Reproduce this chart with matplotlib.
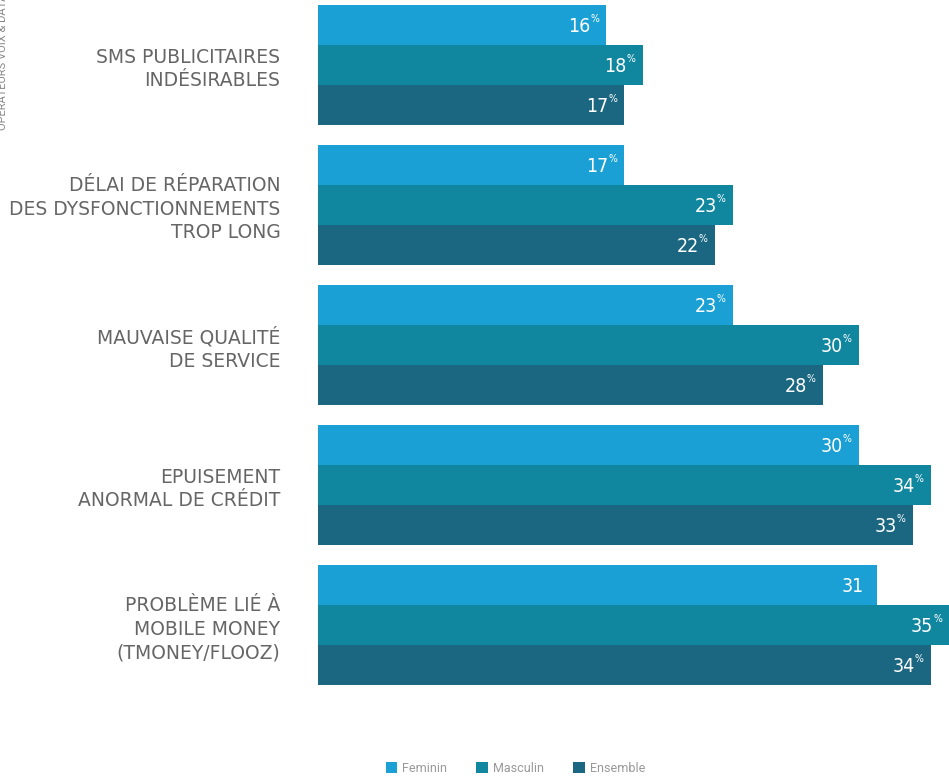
import matplotlib
matplotlib.use("Agg")
import matplotlib.pyplot as plt
import numpy as np

plt.rcParams['font.family'] = ['Roboto', 'DejaVu Sans']

# data
categories = ["SMS PUBLICITAIRES\nINDÉSIRABLES",
              "DÉLAI DE RÉPARATION\nDES DYSFONCTIONNEMENTS\nTROP LONG",
              "MAUVAISE QUALITÉ\nDE SERVICE",
              "EPUISEMENT\nANORMAL DE CRÉDIT",
              "PROBLÈME LIÉ À\nMOBILE MONEY\n(TMONEY/FLOOZ)"]
feminin = [16, 17, 23, 30, 31]
masculin = [18, 23, 30, 34, 35]
ensemble = [17, 22, 28, 33, 34]
series_names = ["Feminin", "Masculin", "Ensemble"]
# the last feminin label has no % sign in the source
show_pct = [[True, True, True, True, False],
            [True] * 5,
            [True] * 5]

colors = ["#1aa0d4", "#11879f", "#1b6781"]

W, H = 949, 777
fig = plt.figure(figsize=(W / 100, H / 100), dpi=100)
# bars area: x 318..949 px, y 5..685 px
ax = fig.add_axes([318 / W, 1 - 685 / H, (W - 318) / W, 680 / H])

pitch = 3.5
base = np.arange(len(categories)) * pitch
handles = []
for i, (vals, name, col) in enumerate(zip([feminin, masculin, ensemble], series_names, colors)):
    ys = base + i
    b = ax.barh(ys, vals, height=1.0, color=col, label=name, linewidth=0)
    handles.append(b)
    for y, v, pct in zip(ys, vals, show_pct[i]):
        ax.annotate(str(v), (v, y), xytext=(-16 if pct else -13, -1), textcoords='offset pixels',
                    ha='right', va='center', color='white', fontsize=14,
                    family='DejaVu Sans', fontstretch='condensed')
        if pct:
            ax.annotate("%", (v, y), xytext=(-16, 11), textcoords='offset pixels',
                        ha='left', va='top', color='white', fontsize=7.5,
                        family='DejaVu Sans', fontstretch='condensed')

ax.set_xlim(0, 35)
ax.set_ylim(-0.5, base[-1] + 2.5)
ax.invert_yaxis()
ax.set_yticks(base + 1)
ax.set_yticklabels(categories, color='#666666', fontsize=13.5, linespacing=1.29,
                   family='DejaVu Sans')
ax.tick_params(axis='y', length=0, pad=27)
ax.set_xticks([])
for s in ax.spines.values():
    s.set_visible(False)

fig.legend(handles=handles, loc='center', bbox_to_anchor=(0.543, 1 - 768 / H),
           ncol=3, frameon=False, fontsize=9, labelcolor='#999999',
           handlelength=0.95, handleheight=0.95, handletextpad=0.4, columnspacing=2.3)

fig.text(3 / W, 1 - 130 / H, "OPÉRATEURS VOIX & DATA", rotation=90, ha='center', va='bottom',
         fontsize=8, color='#888888')

fig.savefig("out.png", dpi=100)
